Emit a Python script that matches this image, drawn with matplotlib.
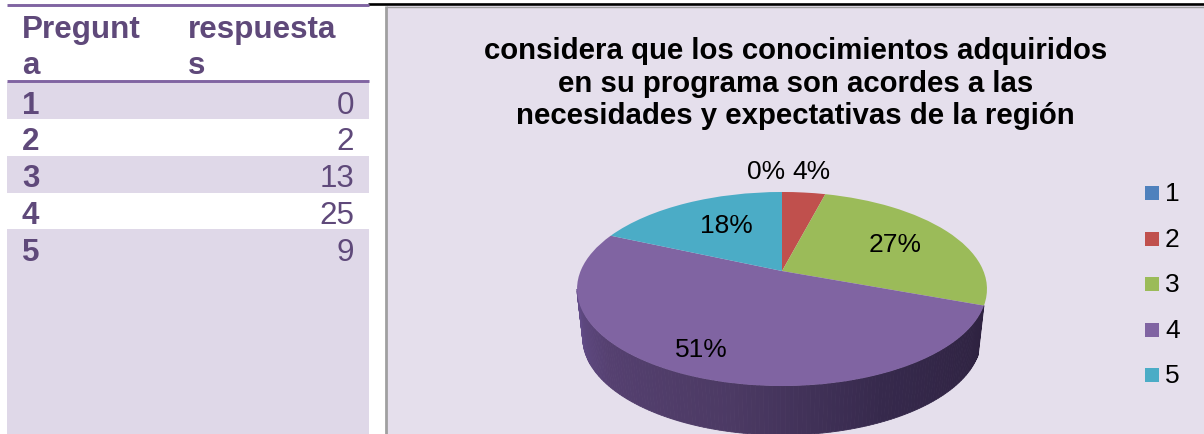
import numpy as np
import matplotlib
matplotlib.use("Agg")
import matplotlib.pyplot as plt
from matplotlib.transforms import Transform

plt.rcParams['font.family'] = ['Liberation Sans', 'DejaVu Sans']

categories = ['1', '2', '3', '4', '5']
values = [0, 2, 13, 25, 9]
colors = ['#4f81bd', '#c0504d', '#9bbb59', '#8064a2', '#4bacc6']
title = ('considera que los conocimientos adquiridos\n'
         'en su programa son acordes a las\n'
         'necesidades y expectativas de la región')
PANEL = '#e5dfec'
BAND = '#dfd8e8'
TXT = '#5f497a'

W, H = 1204, 435
fig = plt.figure(figsize=(W / 100, H / 100), dpi=100, facecolor='white')
ax = fig.add_axes([0, 0, 1, 1])


class Disc(Transform):
    """Perspective view of the unit disc, result in pixel coordinates."""
    input_dims = output_dims = 2

    def __init__(self, cx=782, y0=272, c=201.4, a=43.2, k=0.1856, dy=0, sx=1.0):
        super().__init__()
        self.p = (cx, y0, c, a, k, dy, sx)

    def transform_non_affine(self, xy):
        cx, y0, c, a, k, dy, sx = self.p
        xy = np.asarray(xy, float)
        u, v = xy[:, 0], xy[:, 1]
        w = 1 + k * v
        return np.column_stack([cx + sx * c * u / w, (y0 - a * v) / w + dy])


top = Disc()
wedges, _, autotexts = ax.pie(values, colors=colors, startangle=90, counterclock=False,
                              autopct='%.0f%%', radius=1.0, textprops={'fontsize': 19})
ax.set_aspect('auto')
ax.set_xlim(0, W)
ax.set_ylim(H, 0)
ax.axis('off')

# background panels
ax.fill_between([387, W], 7, H, color=PANEL, zorder=0, lw=0)
ax.plot([386, 386], [7, H], color='#a0a0a0', lw=2.0, zorder=1, solid_capstyle='butt')
ax.plot([386, W], [7.5, 7.5], color='#a0a0a0', lw=1.0, zorder=1, solid_capstyle='butt')
ax.plot([368, W], [5, 5], color='black', lw=1.9, zorder=1, solid_capstyle='butt')

# table
ax.fill_between([7, 369], 83, 120, color=BAND, lw=0, zorder=1)
ax.fill_between([7, 369], 157, 194, color=BAND, lw=0, zorder=1)
ax.fill_between([7, 369], 230, H, color=BAND, lw=0, zorder=1)
ax.plot([7, 369], [5.5, 5.5], color='#8064a2', lw=2.1, zorder=2, solid_capstyle='butt')
ax.plot([7, 369], [81.5, 81.5], color='#8064a2', lw=2.1, zorder=2, solid_capstyle='butt')
TS = 22.6
ax.text(22, 38, 'Pregunt', fontsize=TS, fontweight='bold', color=TXT, va='baseline', zorder=3)
ax.text(22, 73.5, 'a', fontsize=TS, fontweight='bold', color=TXT, va='baseline', zorder=3)
ax.text(188, 38, 'respuesta', fontsize=TS, fontweight='bold', color=TXT, va='baseline', zorder=3)
ax.text(188, 73.5, 's', fontsize=TS, fontweight='bold', color=TXT, va='baseline', zorder=3)
for i, (cat, val) in enumerate(zip(categories, values)):
    y = 113.5 + 36.8 * i
    ax.text(22, y, cat, fontsize=TS, fontweight='bold', color=TXT, va='baseline', zorder=3)
    ax.text(354, y, str(val), fontsize=TS, color=TXT, va='baseline', ha='right', zorder=3)

# chart title
ax.text(795.5, 83.5, title, fontsize=21.2, fontweight='bold', color='black', ha='center',
        va='center', linespacing=1.2, zorder=3)

# side wall of the pie: strips along the front rim, from the slice 3/4 corner leftwards
wall_stops = np.array([0, 0.3, 0.55, 0.8, 1.0])
wall_cols = np.array([[0x2e, 0x22, 0x40], [0x36, 0x29, 0x4c], [0x4c, 0x3a, 0x64],
                      [0x55, 0x40, 0x70], [0x62, 0x4c, 0x88]], float) / 255
bottom = Disc(dy=49, sx=0.972)
start = 90 - 360 * sum(values[:3]) / sum(values)
ang = np.radians(np.linspace(start, -169.3, 150))
uv = np.column_stack([np.cos(ang), np.sin(ang)])
pt, pb = top.transform_non_affine(uv), bottom.transform_non_affine(uv)
for i in range(len(ang) - 1):
    f = i / (len(ang) - 2)
    col = [np.interp(f, wall_stops, wall_cols[:, ch]) for ch in range(3)]
    ax.fill([pt[i, 0], pt[i + 1, 0], pb[i + 1, 0], pb[i, 0]],
            [pt[i, 1], pt[i + 1, 1], pb[i + 1, 1], pb[i, 1]],
            color=col, lw=0.6, zorder=2, clip_on=True)

# top face
for wd in wedges:
    wd.set_transform(top + ax.transData)
    wd.set_zorder(3)
    wd.set_linewidth(0)
label_pos = [(766, 172), (811, 172), (895, 245), (701, 350), (726, 226)]
for t, p in zip(autotexts, label_pos):
    t.set_position(p)
    t.set_ha('center')
    t.set_va('center')
    t.set_color('black')
    t.set_zorder(5)

# legend
for i, (cat, col) in enumerate(zip(categories, colors)):
    y = 194 + 45.6 * i
    ax.scatter([1152], [y], marker='s', s=101, color=col, lw=0, zorder=3)
    ax.text(1165, y, cat, fontsize=19, color='black', va='center', zorder=3)

fig.savefig('out.png', dpi=100, facecolor='white')
